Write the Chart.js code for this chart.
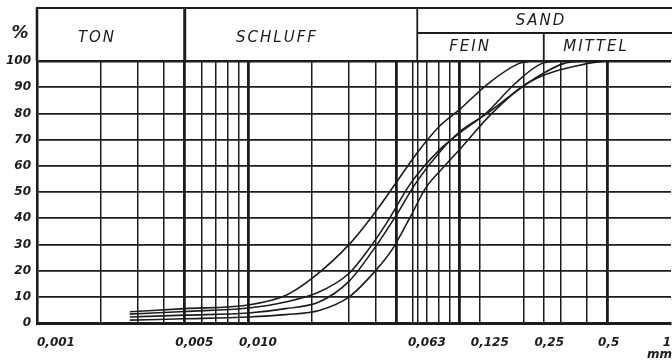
<!DOCTYPE html>
<html><head><meta charset="utf-8">
<script src="https://cdn.jsdelivr.net/npm/chart.js@4"></script>
<style>html,body{margin:0;padding:0;background:#fff}#c{display:block}</style>
</head><body>
<div style="width:672px;height:360px;position:relative"><canvas id="c" width="672" height="360"></canvas></div>
<script>
// ---- data ----
const gridValues = [0.002,0.003,0.004,0.005,0.006,0.007,0.008,0.009,0.01,0.02,0.03,0.04,0.05,0.06,0.063,0.07,0.08,0.09,0.1,0.125,0.2,0.25,0.3,0.4,0.5];
const thickValues = [0.005,0.01,0.05,0.1,0.5];
const xTickValues = [0.001,0.005,0.01,0.063,0.125,0.25,0.5,1];
const xTickLabels = ['0,001','0,005','0,010','0,063','0,125','0,25','0,5','1'];
const yTickValues = [0,10,20,30,40,50,60,70,80,90,100];

const curveA_x = [0.00275,0.005,0.01,0.015,0.02,0.03,0.04,0.05,0.063,0.08,0.1,0.137,0.19,0.22];
const curveA_y = [4.3,5.5,6.9,10.5,17,30,42.5,53.5,65,75,81.5,91.5,99,100];
const curveB_x = [0.00275,0.005,0.01,0.015,0.0216,0.03,0.037,0.045,0.0587,0.08,0.1,0.133,0.184,0.244,0.3];
const curveB_y = [3.4,4.4,5.7,8,11.8,19,28,38,53.4,66,72.5,80,91.6,99,100];
const curveC_x = [0.00275,0.005,0.01,0.015,0.0216,0.03,0.039,0.05,0.062,0.082,0.1,0.135,0.21,0.31,0.4];
const curveC_y = [2.3,3,3.8,5.5,8,16,27.9,41,53.4,66,73,80,91.6,99,100];
const curveD_x = [0.00275,0.005,0.01,0.015,0.0216,0.03,0.04,0.0478,0.058,0.069,0.085,0.102,0.142,0.21,0.4,0.5];
const curveD_y = [1.1,1.6,2.3,3.2,4.8,10,20,27.9,40,51.5,60,67,80,91.6,99,100];

const headerTon = 'TON', headerSchluff = 'SCHLUFF', headerSand = 'SAND', headerFein = 'FEIN', headerMittel = 'MITTEL';
const sandStart = 0.063, mittelStart = 0.25, schluffStart = 0.005;

const INK = '#1c1c1c';
const mk = (xs, ys) => xs.map((x, i) => ({x, y: ys[i]}));
const ds = (xs, ys) => ({data: mk(xs, ys), borderColor: INK, borderWidth: 1.6, pointRadius: 0, fill: false, cubicInterpolationMode: 'monotone'});

const headerPlugin = {
  id: 'header',
  afterDraw(chart) {
    const ctx = chart.ctx, xs = chart.scales.x, ca = chart.chartArea;
    const top = 8, mid = 33, right = 672;
    ctx.save();
    ctx.strokeStyle = INK; ctx.lineCap = 'butt';
    const line = (x1, y1, x2, y2, w) => { ctx.lineWidth = w; ctx.beginPath(); ctx.moveTo(x1, y1); ctx.lineTo(x2, y2); ctx.stroke(); };
    line(ca.left - 1, top, right, top, 2.2);
    line(ca.left, top, ca.left, ca.top, 2.6);
    line(xs.getPixelForValue(schluffStart), top, xs.getPixelForValue(schluffStart), ca.top, 3);
    line(xs.getPixelForValue(sandStart), top, xs.getPixelForValue(sandStart), ca.top, 1.8);
    line(xs.getPixelForValue(sandStart), mid, right, mid, 1.8);
    line(xs.getPixelForValue(mittelStart), mid, xs.getPixelForValue(mittelStart), ca.top, 1.8);
    // header texts
    ctx.fillStyle = INK; ctx.textAlign = 'center'; ctx.textBaseline = 'middle';
    ctx.font = 'italic 15px "DejaVu Sans"';
    ctx.letterSpacing = '2px';
    ctx.fillText(headerTon, 97, 38);
    ctx.fillText(headerSchluff, 277, 38);
    ctx.fillText(headerSand, 541, 21);
    ctx.fillText(headerFein, 470, 47);
    ctx.fillText(headerMittel, 596, 47);
    ctx.letterSpacing = '0px';
    // percent sign
    ctx.font = 'italic bold 17px "DejaVu Sans"';
    ctx.fillText('%', 20, 34);
    // x labels
    ctx.font = 'italic bold 12px "DejaVu Sans"';
    ctx.textAlign = 'left'; ctx.textBaseline = 'middle';
    xTickValues.forEach((v, i) => {
      const px = xs.getPixelForValue(v);
      const lbl = xTickLabels[i];
      const off = lbl.length > 1 ? ctx.measureText('0').width + 1 : 4;
      const w = ctx.measureText(lbl).width;
      ctx.fillText(lbl, Math.max(ca.left, Math.min(px - off, 672 - w - 1)), 343);
    });
    ctx.textAlign = 'right';
    ctx.fillText('mm', 672, 355);
    ctx.restore();
  }
};

new Chart(document.getElementById('c'), {
  type: 'line',
  data: { datasets: [ds(curveA_x, curveA_y), ds(curveB_x, curveB_y), ds(curveC_x, curveC_y), ds(curveD_x, curveD_y)] },
  options: {
    responsive: false, devicePixelRatio: 1, animation: false,
    layout: { padding: { top: 61, right: 1, left: 0, bottom: 0 } },
    plugins: { legend: { display: false }, tooltip: { enabled: false } },
    scales: {
      x: {
        type: 'logarithmic', min: 0.001, max: 1,
        afterBuildTicks: s => { s.ticks = gridValues.map(v => ({value: v})); },
        afterFit: s => { s.height = 37; },
        ticks: { display: false },
        grid: { color: INK, drawTicks: false, lineWidth: c => thickValues.includes(c.tick && c.tick.value) ? 2.8 : 1.5 },
        border: { color: INK, width: 3 }
      },
      y: {
        min: 0, max: 100,
        afterBuildTicks: s => { s.ticks = yTickValues.map(v => ({value: v})); },
        afterFit: s => { s.width = 37; },
        ticks: { color: INK, padding: 6, font: { family: 'DejaVu Sans', size: 12, style: 'italic', weight: 'bold' }, callback: v => String(v) },
        grid: { color: INK, drawTicks: false, lineWidth: c => (c.tick && c.tick.value === 100) ? 2.6 : 1.7 },
        border: { color: INK, width: 2.6 }
      }
    }
  },
  plugins: [headerPlugin]
});
</script>
</body></html>
